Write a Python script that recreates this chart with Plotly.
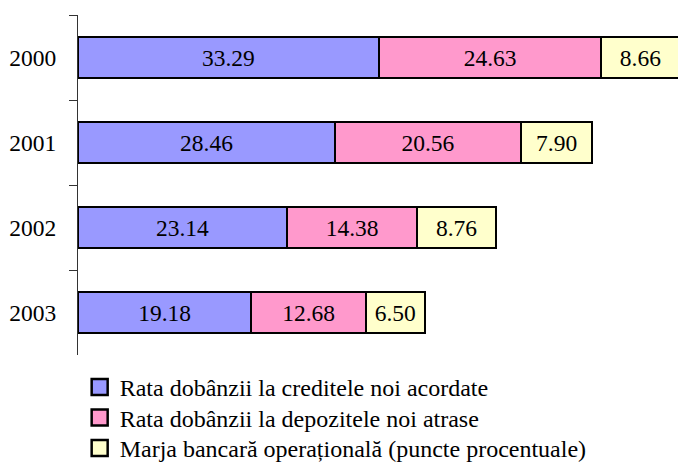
import plotly.graph_objects as go

years = ["2000", "2001", "2002", "2003"]
credite = [33.29, 28.46, 23.14, 19.18]
depozite = [24.63, 20.56, 14.38, 12.68]
marja = [8.66, 7.90, 8.76, 6.50]

names = [
    "Rata dobânzii la creditele noi acordate",
    "Rata dobânzii la depozitele noi atrase",
    "Marja bancară operațională (puncte procentuale)",
]
colors = ["#9999FF", "#FF99CC", "#FFFFCC"]
series = [credite, depozite, marja]

FONT = "Liberation Serif, Times New Roman, serif"
FS = 23.5
legend_ids = ["legend", "legend2", "legend3"]

fig = go.Figure()
for i, (name, vals, col) in enumerate(zip(names, series, colors)):
    fig.add_trace(go.Bar(
        y=years, x=vals, name=name, orientation="h", showlegend=False,
        marker=dict(color=col, line=dict(color="black", width=2)),
        text=[f"{v:.2f}" for v in vals], textposition="inside",
        insidetextanchor="middle", constraintext="none", textangle=0,
        textfont=dict(family=FONT, size=FS, color="black"),
        hoverinfo="skip",
    ))
# legend entries (square swatches like the original), one legend per row
for i, (name, col) in enumerate(zip(names, colors)):
    fig.add_trace(go.Scatter(
        x=[None], y=[None], mode="markers", name=name, legend=legend_ids[i],
        marker=dict(symbol="square", size=16, color=col,
                    line=dict(color="black", width=2.5)),
        hoverinfo="skip",
    ))

legend_style = dict(xref="container", yref="container", x=0.1175,
                    xanchor="left", yanchor="top",
                    font=dict(family=FONT, size=24, color="black"),
                    itemwidth=30, bgcolor="rgba(0,0,0,0)")
row_tops = [0.212, 0.1461, 0.0802]

fig.update_layout(
    width=678, height=463,
    barmode="stack", bargap=0.51,
    margin=dict(l=78, r=0, t=15, b=108, autoexpand=False),
    paper_bgcolor="white", plot_bgcolor="white",
    font=dict(family=FONT, size=FS, color="black"),
    xaxis=dict(visible=False, range=[0, 66.4], fixedrange=True),
    yaxis=dict(type="category", categoryorder="array", categoryarray=years,
               autorange="reversed", showline=True, linecolor="#333333", linewidth=1,
               ticks="outside", tickson="boundaries", ticklen=8, tickcolor="#333333",
               showgrid=False, zeroline=False, ticklabelstandoff=16, fixedrange=True,
               tickfont=dict(family=FONT, size=FS, color="black")),
    legend=dict(legend_style, y=row_tops[0]),
    legend2=dict(legend_style, y=row_tops[1]),
    legend3=dict(legend_style, y=row_tops[2]),
    showlegend=True,
)

fig.write_html("out.html", config={"displayModeBar": False},
               post_script="document.body.style.margin='0';")
